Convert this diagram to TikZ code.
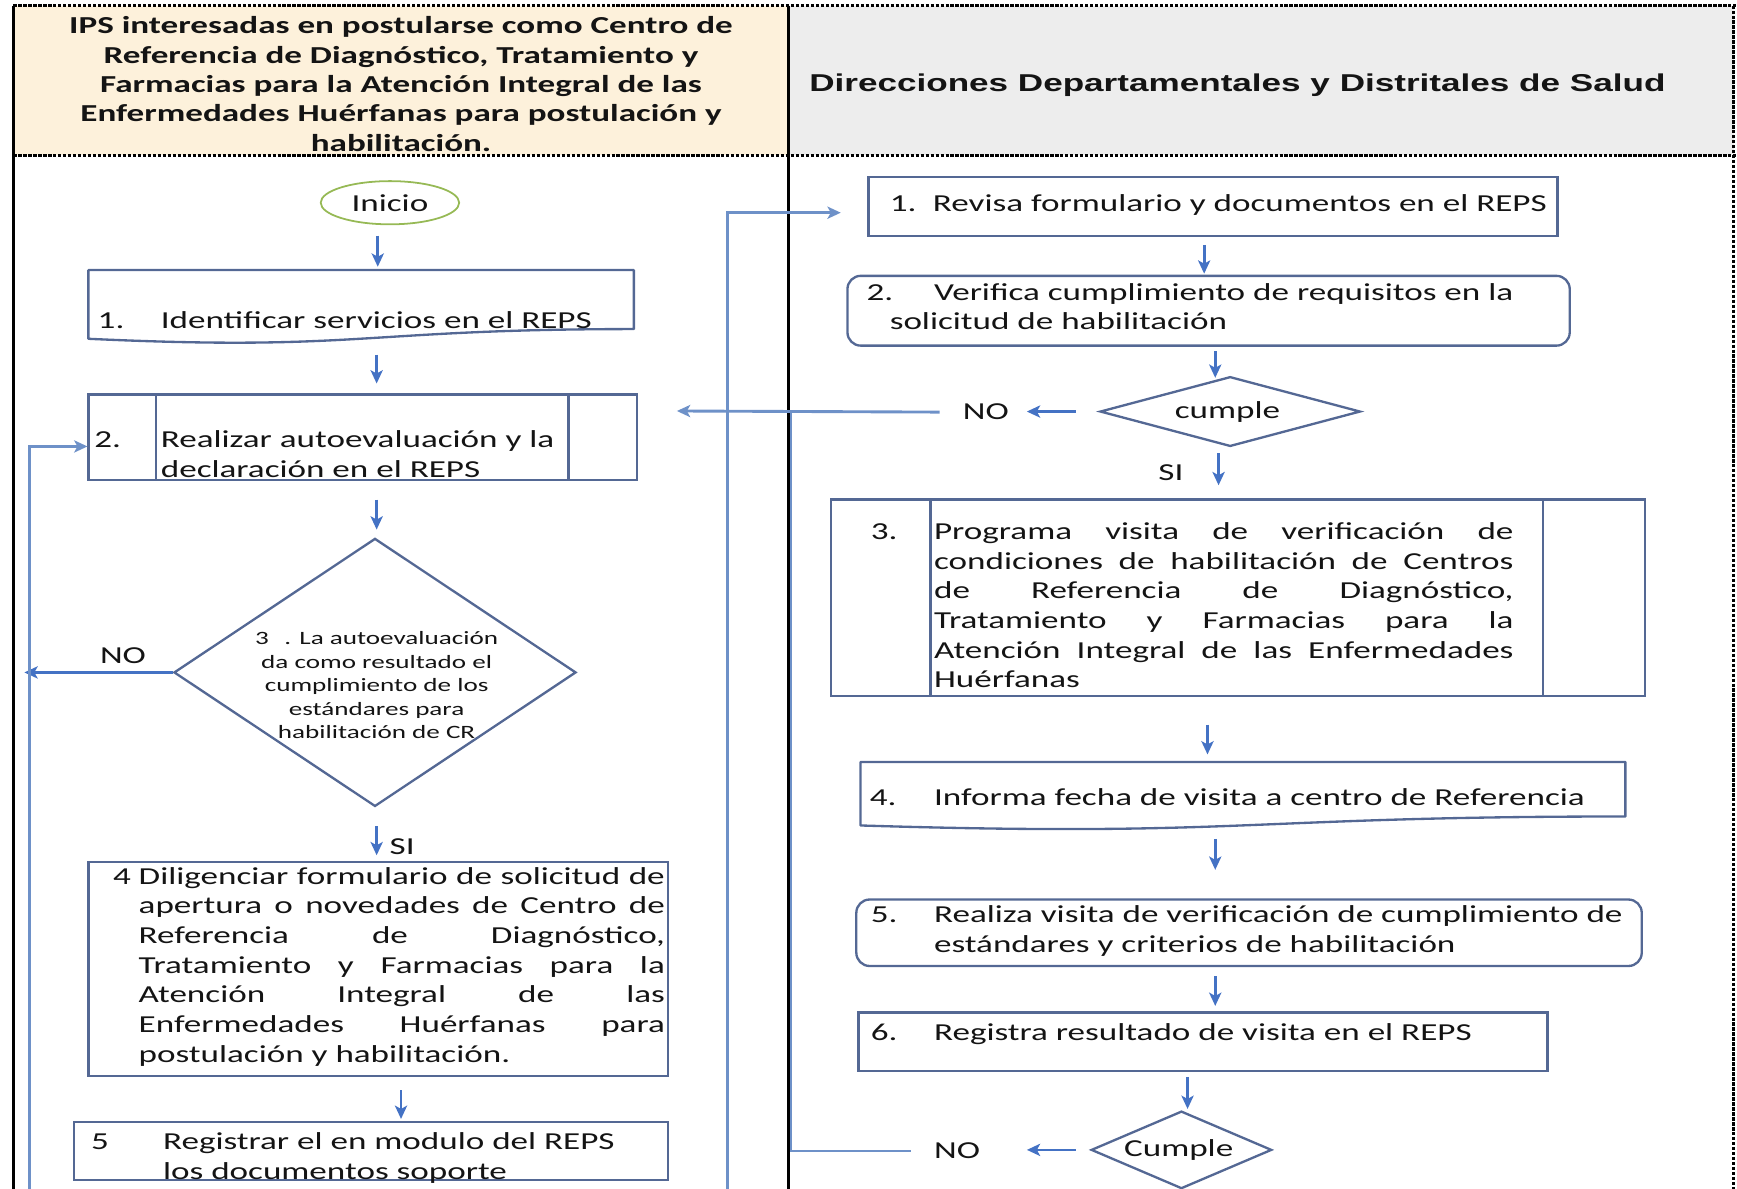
\documentclass[tikz,border=0pt]{standalone}
\usepackage{fontspec}
\setmainfont{Carlito}[FakeStretch=1.44]
\newfontfamily\hdrfont{Liberation Sans}[FakeStretch=1.44]
\usetikzlibrary{shapes.geometric,arrows.meta,calc}

\definecolor{hdrbeige}{RGB}{253,241,219}
\definecolor{hdrgray}{RGB}{237,237,237}
\definecolor{boxcol}{RGB}{84,104,148}
\definecolor{arrcol}{RGB}{68,114,196}
\definecolor{linkcol}{RGB}{110,145,200}
\definecolor{startcol}{RGB}{150,185,85}
\definecolor{txtcol}{RGB}{20,20,20}

% text lines: justified to a width, plain, or centred on the anchor
\newcommand\jline[2]{\hbox to #1{#2}}
\newcommand\pline[1]{\hbox{#1}}
\newcommand\mline[1]{\hbox to 0pt{\hss#1\hss}}

% flowchart "document" outline drawn on a hidden rectangle node
\newcommand\docoutline[1]{%
  \draw[draw=boxcol, line width=2.1pt, line join=round]
    (#1.north west) -- (#1.north east)
    -- ($(#1.north east)!0.802!(#1.south east)$)
    .. controls ($(#1.north)!0.802!(#1.south)$) and ($(#1.north)!1.107!(#1.south)$)
    .. ($(#1.north west)!0.934!(#1.south west)$) -- cycle;}
% inner bars of a "predefined process" box
\newcommand\sidebars[3]{%
  \draw[draw=boxcol, line width=2.1pt]
    ([xshift=#2]#1.north west) -- ([xshift=#2]#1.south west)
    ([xshift=-#3]#1.north east) -- ([xshift=-#3]#1.south east);}

\tikzset{
  body/.style={font=\fontsize{22}{26.8}\selectfont, text=txtcol, inner sep=0pt},
  lbl/.style={body, anchor=base west},
  shapebox/.style={draw=boxcol, line width=2.1pt, inner sep=0pt},
  plainbox/.style={shapebox, rectangle},
  roundbox/.style={shapebox, rectangle, rounded corners=12pt},
  hidden/.style={rectangle, inner sep=0pt, draw=none},
  decision/.style={shapebox, diamond},
  tip/.style={-{Stealth[length=12pt,width=11pt,inset=3pt]}},
  arr/.style={draw=arrcol, line width=2.4pt, tip},
  link/.style={draw=linkcol, line width=2.6pt},
  linkarr/.style={link, tip},
  frameline/.style={black, line width=2.3pt},
  dashframe/.style={frameline, line width=2.6pt, dash pattern=on 3pt off 1.5pt},
}

\begin{document}
\begin{tikzpicture}[x=1pt,y=-1pt]
\useasboundingbox (0,0) rectangle (1568,1073);

% lane headers
\fill[hdrbeige] (12,5) rectangle (712,140);
\fill[hdrgray] (712,5) rectangle (1565,140);
\draw[dashframe] (12,5) -- (1568,5);
\draw[dashframe] (12,140) -- (1568,140);
\draw[dashframe] (1565,5) -- (1565,1073);
\draw[frameline] (12,5) -- (12,1073);
\draw[frameline] (712,5) -- (712,1073);

\node[anchor=base, inner sep=0pt, text=txtcol,
      font=\bfseries\fontsize{22}{26.5}\selectfont] (hdrL) at (362,30.5)
  {\vtop{\mline{IPS interesadas en postularse como Centro de}
         \mline{Referencia de Diagnóstico, Tratamiento y}
         \mline{Farmacias para la Atención Integral de las}
         \mline{Enfermedades Huérfanas para postulación y}
         \mline{habilitación.}}};
\node[anchor=base, inner sep=0pt, text=txtcol,
      font=\hdrfont\bfseries\fontsize{22}{26}\selectfont] (hdrR) at (1117,83)
  {Direcciones Departamentales y Distritales de Salud};

% ---------------- left lane ----------------
\node[ellipse, draw=startcol, line width=1.6pt, minimum width=125pt,
      minimum height=39pt, body] (ini) at (352,183) {Inicio};

\node[hidden, minimum width=492pt, minimum height=66pt] (b1) at (326,277) {};
\docoutline{b1}
\node[lbl] (b1n) at (88,296.5) {1.};
\node[lbl] (b1t) at (145,296.5) {Identificar servicios en el REPS};

\node[plainbox, minimum width=495pt, minimum height=77pt] (b2) at (327.5,394.5) {};
\sidebars{b2}{62pt}{63pt}
\node[lbl] (b2n) at (85,404) {2.};
\node[lbl] (b2t) at (145,404)
  {\vtop{\pline{Realizar autoevaluación y la}\pline{declaración en el REPS}}};

\node[decision, minimum width=363pt, minimum height=242pt] (d1) at (338.5,607) {};
\node[anchor=base, inner sep=0pt, text=txtcol,
      font=\fontsize{17}{21.2}\selectfont] (d1t) at (340,582)
  {\vtop{\mline{3\hspace{14pt}. La autoevaluación}
         \mline{da como resultado el}
         \mline{cumplimiento de los}
         \mline{estándares para}
         \mline{habilitación de CR}}};
\node[body] (no1) at (111,592) {NO};
\node[body] (si1) at (363,764) {SI};

\node[plainbox, minimum width=523pt, minimum height=193pt] (b4) at (341.5,874.5) {};
\node[lbl] (b4n) at (102,798) {4};
\node[lbl] (b4t) at (125,798)
  {\vtop{\jline{475pt}{Diligenciar formulario de solicitud de}
         \jline{475pt}{apertura o novedades de Centro de}
         \jline{475pt}{Referencia de Diagnóstico,}
         \jline{475pt}{Tratamiento y Farmacias para la}
         \jline{475pt}{Atención Integral de las}
         \jline{475pt}{Enfermedades Huérfanas para}
         \pline{postulación y habilitación.}}};

\node[plainbox, minimum width=536pt, minimum height=52pt] (b5) at (335,1039) {};
\node[lbl] (b5n) at (82,1038) {5};
\node[lbl] (b5t) at (147,1038)
  {\vtop{\pline{Registrar el en modulo del REPS}\pline{los documentos soporte}}};

% ---------------- right lane ----------------
\node[plainbox, minimum width=622pt, minimum height=53pt] (r1) at (1095,186.5) {};
\node[lbl] (r1n) at (803,191) {1.};
\node[lbl] (r1t) at (842,191) {Revisa formulario y documentos en el REPS};

\node[roundbox, minimum width=652pt, minimum height=63pt] (r2) at (1091,280.5) {};
\node[lbl] (r2n) at (782,271) {2.};
\node[lbl] (r2t) at (803,271)
  {\vtop{\pline{\kern40pt Verifica cumplimiento de requisitos en la}
         \pline{solicitud de habilitación}}};

\node[decision, minimum width=235pt, minimum height=63pt] (c1) at (1110.5,371.5) {};
\node[body] (c1t) at (1108,371.5) {cumple};
\node[body] (no2) at (890,372) {NO};
\node[body] (si2) at (1057,427) {SI};

\node[plainbox, minimum width=735pt, minimum height=177pt] (r3) at (1117.5,539.5) {};
\sidebars{r3}{91pt}{93pt}
\node[lbl] (r3n) at (786,487) {3.};
\node[lbl] (r3t) at (843,487)
  {\vtop{\jline{523pt}{Programa visita de verificación de}
         \jline{523pt}{condiciones de habilitación de Centros}
         \jline{523pt}{de Referencia de Diagnóstico,}
         \jline{523pt}{Tratamiento y Farmacias para la}
         \jline{523pt}{Atención Integral de las Enfermedades}
         \pline{Huérfanas}}};

\node[hidden, minimum width=690pt, minimum height=61pt] (r4) at (1122,718.5) {};
\docoutline{r4}
\node[lbl] (r4n) at (785,727) {4.};
\node[lbl] (r4t) at (843,727) {Informa fecha de visita a centro de Referencia};

\node[roundbox, minimum width=709pt, minimum height=60pt] (r5) at (1127.5,842) {};
\node[lbl] (r5n) at (786,833) {5.};
\node[lbl] (r5t) at (843,833)
  {\vtop{\pline{Realiza visita de verificación de cumplimiento de}
         \pline{estándares y criterios de habilitación}}};

\node[plainbox, minimum width=622pt, minimum height=53pt] (r6) at (1086,940.5) {};
\node[lbl] (r6n) at (786,939) {6.};
\node[lbl] (r6t) at (843,939) {Registra resultado de visita en el REPS};

\node[decision, minimum width=163pt, minimum height=70pt] (c2) at (1066.5,1038) {};
\node[body] (c2t) at (1064,1038.5) {Cumple};
\node[body] (no3) at (864,1039) {NO};

% ---------------- connectors ----------------
\coordinate (loopbot) at (27,1080);
\coordinate (fwdbot) at (657,1080);
\coordinate (noL) at (22,607);
\coordinate (jn) at (714,371);

% short step arrows, left lane
\draw[arr] (ini.south) ++(-11,9.5) -- ++(0,28);
\draw[arr] (b1.south) ++(14,10) -- ++(0,26);
\draw[arr] (b2.south) ++(12.5,17) -- ++(0,27);
\draw[arr] (d1.south) ++(1.5,17) -- ++(0,26);
\draw[arr] (b4.south) ++(20.5,12) -- ++(0,26);

% short step arrows, right lane
\draw[arr] (r1.south) ++(-8,7) -- ++(0,26);
\draw[arr] (r2.south) ++(6,4) -- ++(0,24);
\draw[arr] (c1.south) ++(-10.5,5) -- ++(0,29);
\draw[arr] (r3.south) ++(-27.5,25) -- ++(0,27);
\draw[arr] (r4.south) ++(-25,8) -- ++(0,28);
\draw[arr] (r5.south) ++(-30.5,8) -- ++(0,27);
\draw[arr] (r6.south) ++(-14,4) -- ++(0,29);

% NO branches
\draw[arr] (d1.west) -- (noL);
\draw[arr] ([xshift=-21pt]c1.west) -- ++(-44,0);
\draw[arr] ([xshift=-13pt]c2.west) -- ++(-44,0);

% return and forward links
\draw[linkarr] (loopbot) |- ([yshift=-8.5pt]b2.west);
\draw[linkarr] (fwdbot) |- ([xshift=-24pt,yshift=-5.5pt]r1.west);
\draw[linkarr] ([xshift=-21pt]no2.west) -- ([xshift=35pt,yshift=23.5pt]b2.east);
\draw[link] ([xshift=-21pt]no3.west) -| (jn);
\end{tikzpicture}
\end{document}
